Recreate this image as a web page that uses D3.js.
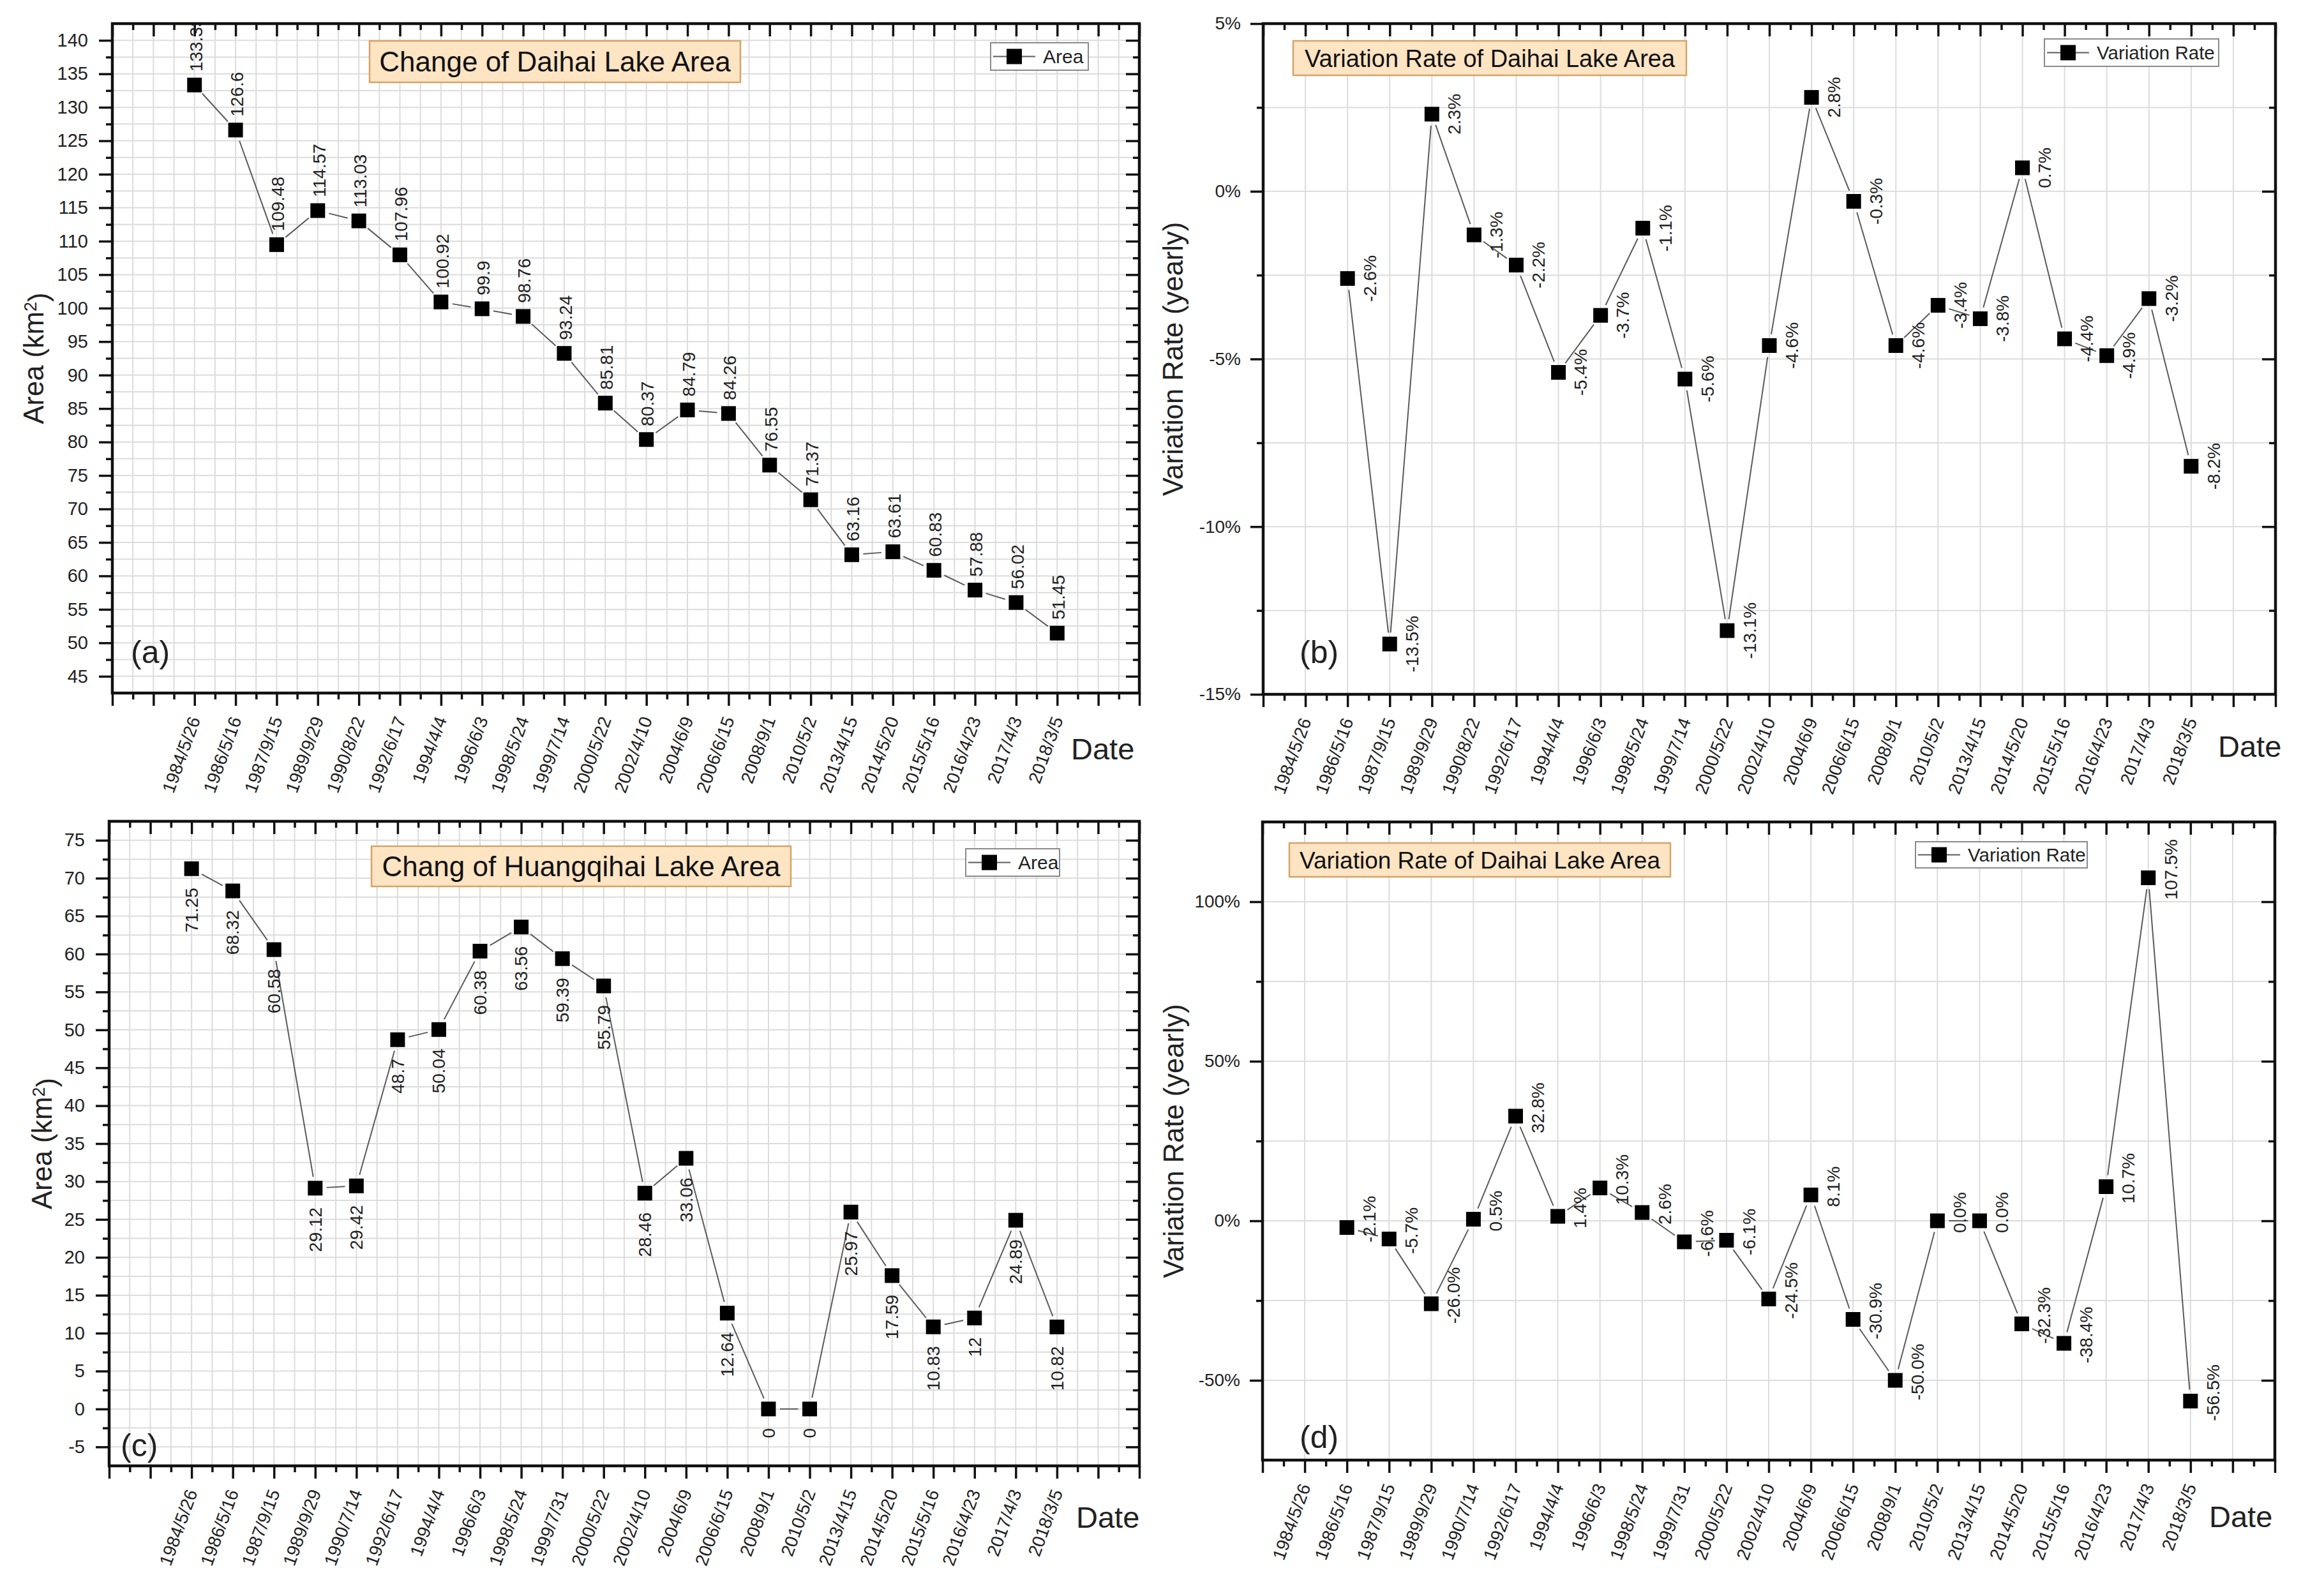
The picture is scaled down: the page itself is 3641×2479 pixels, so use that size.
<!DOCTYPE html>
<html>
<head>
<meta charset="utf-8">
<script src="https://cdn.jsdelivr.net/npm/d3@7"></script>
<style>
  body { margin: 0; background: #fff; }
  svg { display: block; }
</style>
</head>
<body>
<svg id="chart" width="3641" height="2479"></svg>
<script>
// ---- data ----
const datesDaihai = ['1984/5/26', '1986/5/16', '1987/9/15', '1989/9/29', '1990/8/22', '1992/6/17',
  '1994/4/4', '1996/6/3', '1998/5/24', '1999/7/14', '2000/5/22', '2002/4/10', '2004/6/9',
  '2006/6/15', '2008/9/1', '2010/5/2', '2013/4/15', '2014/5/20', '2015/5/16', '2016/4/23',
  '2017/4/3', '2018/3/5'];
const datesHuangqihai = ['1984/5/26', '1986/5/16', '1987/9/15', '1989/9/29', '1990/7/14', '1992/6/17',
  '1994/4/4', '1996/6/3', '1998/5/24', '1999/7/31', '2000/5/22', '2002/4/10', '2004/6/9',
  '2006/6/15', '2008/9/1', '2010/5/2', '2013/4/15', '2014/5/20', '2015/5/16', '2016/4/23',
  '2017/4/3', '2018/3/5'];

const daihaiArea = [133.33, 126.6, 109.48, 114.57, 113.03, 107.96, 100.92, 99.9, 98.76, 93.24,
  85.81, 80.37, 84.79, 84.26, 76.55, 71.37, 63.16, 63.61, 60.83, 57.88, 56.02, 51.45];
// rates start at the second date
const daihaiRate = [-2.6, -13.5, 2.3, -1.3, -2.2, -5.4, -3.7, -1.1, -5.6, -13.1, -4.6, 2.8,
  -0.3, -4.6, -3.4, -3.8, 0.7, -4.4, -4.9, -3.2, -8.2];
const huangqihaiArea = [71.25, 68.32, 60.58, 29.12, 29.42, 48.7, 50.04, 60.38, 63.56, 59.39,
  55.79, 28.46, 33.06, 12.64, 0, 0, 25.97, 17.59, 10.83, 12, 24.89, 10.82];
const huangqihaiRate = [-2.1, -5.7, -26.0, 0.5, 32.8, 1.4, 10.3, 2.6, -6.6, -6.1, -24.5, 8.1,
  -30.9, -50.0, 0.0, 0.0, -32.3, -38.4, 10.7, 107.5, -56.5];

const areaTicksDaihai = [45, 50, 55, 60, 65, 70, 75, 80, 85, 90, 95, 100, 105, 110, 115, 120, 125, 130, 135, 140];
const areaTicksHuangqihai = [-5, 0, 5, 10, 15, 20, 25, 30, 35, 40, 45, 50, 55, 60, 65, 70, 75];
const rateTicksDaihai = [-15, -10, -5, 0, 5];
const rateTicksHuangqihai = [-50, 0, 50, 100];

// ---- drawing ----
const svg = d3.select('#chart');
const font = 'Arial, "Liberation Sans", Helvetica, sans-serif';

const panels = [
  {
    key: 'a', dates: datesDaihai, values: daihaiArea, offset: 0,
    left: 176, right: 1785, top: 37, bottom: 1086,
    xDomain: [-2, 23], yDomain: [42.5, 142.5],
    yTicks: areaTicksDaihai, yMinor: d3.range(47.5, 140, 5), yFormat: d => d,
    denseGrid: true, labelMode: 'above', labelFmt: v => String(v),
    tickFont: 29, tickSize: 21, tickPad: 17,
    title: 'Change of Daihai Lake Area', titleBox: [579, 64, 581, 65], titleFont: 44,
    legend: 'Area', legendBox: [1552, 67, 153, 43], legendFont: 30,
    area: true, yTitleX: 68, dateX: 1678, dateY: 1190, tag: '(a)', tagX: 205, tagY: 1039
  },
  {
    key: 'b', dates: datesDaihai, values: daihaiRate, offset: 1,
    left: 1979, right: 3565, top: 37, bottom: 1088,
    xDomain: [-1, 23], yDomain: [-15, 5],
    yTicks: rateTicksDaihai, yMinor: [-12.5, -7.5, -2.5, 2.5], yFormat: d => d + '%',
    denseGrid: false, labelMode: 'right', labelFmt: v => v.toFixed(1) + '%', labelDy: 0,
    tickFont: 28, tickSize: 20, tickPad: 15,
    title: 'Variation Rate of Daihai Lake Area', titleBox: [2026, 64, 616, 54], titleFont: 38,
    legend: 'Variation Rate', legendBox: [3203, 61, 273, 43], legendFont: 29.5,
    area: false, yTitleX: 1853, dateX: 3475, dateY: 1186, tag: '(b)', tagX: 2036, tagY: 1039
  },
  {
    key: 'c', dates: datesHuangqihai, values: huangqihaiArea, offset: 0,
    left: 171, right: 1785, top: 1287, bottom: 2297,
    xDomain: [-2, 23], yDomain: [-7.5, 77.5],
    yTicks: areaTicksHuangqihai, yMinor: d3.range(-2.5, 75, 5), yFormat: d => d,
    denseGrid: true, labelMode: 'below', labelFmt: v => String(v),
    tickFont: 29, tickSize: 21, tickPad: 17,
    title: 'Chang of Huangqihai Lake Area', titleBox: [582, 1326, 657, 63], titleFont: 44,
    legend: 'Area', legendBox: [1513, 1330, 147, 43], legendFont: 30,
    area: true, yTitleX: 81, dateX: 1686, dateY: 2394, tag: '(c)', tagX: 189, tagY: 2282
  },
  {
    key: 'd', dates: datesHuangqihai, values: huangqihaiRate, offset: 1,
    left: 1978, right: 3564, top: 1288, bottom: 2288,
    xDomain: [-1, 23], yDomain: [-75, 125],
    yTicks: rateTicksHuangqihai, yMinor: [-25, 25, 75], yFormat: d => d + '%',
    denseGrid: false, labelMode: 'right', labelFmt: v => v.toFixed(1) + '%', labelDy: -13,
    tickFont: 28, tickSize: 20, tickPad: 15,
    title: 'Variation Rate of Daihai Lake Area', titleBox: [2020, 1321, 597, 53], titleFont: 37,
    legend: 'Variation Rate', legendBox: [3001, 1319, 269, 41], legendFont: 29.5,
    area: false, yTitleX: 1854, dateX: 3461, dateY: 2393, tag: '(d)', tagX: 2036, tagY: 2269
  }
];

function styleAxis(sel, fs) {
  sel.attr('font-family', font).attr('font-size', fs);
  sel.select('.domain').remove();
  sel.selectAll('.tick line').attr('stroke', '#111').attr('stroke-width', 3.5);
  sel.selectAll('.tick text').attr('fill', '#222');
}

function drawPanel(p) {
  const g = svg.append('g').attr('class', 'panel-' + p.key);
  const x = d3.scaleLinear().domain(p.xDomain).range([p.left, p.right]);
  const y = d3.scaleLinear().domain(p.yDomain).range([p.bottom, p.top]);
  const [x0, x1] = p.xDomain;
  const xMajor = d3.range(x0, x1 + 0.01, 1);
  const xMinor = d3.range(x0 + 0.5, x1, 1);

  // grid
  const xGrid = p.denseGrid ? d3.range(x0 + 0.5, x1 - 0.01, 0.5) : d3.range(x0 + 1, x1 - 0.01, 1);
  const yGrid = [...p.yTicks, ...p.yMinor].filter(v => v > p.yDomain[0] && v < p.yDomain[1]);
  g.append('g').selectAll('line').data(xGrid).join('line')
    .attr('x1', d => x(d)).attr('x2', d => x(d))
    .attr('y1', p.top).attr('y2', p.bottom)
    .attr('stroke', '#dcdcdc').attr('stroke-width', 2);
  g.append('g').selectAll('line').data(yGrid).join('line')
    .attr('x1', p.left).attr('x2', p.right)
    .attr('y1', d => y(d)).attr('y2', d => y(d))
    .attr('stroke', '#dcdcdc').attr('stroke-width', 2);

  // axes: major + minor on all four sides
  const dateFmt = d => (Number.isInteger(d) && p.dates[d]) ? p.dates[d] : '';
  const bottomMajor = g.append('g').attr('transform', `translate(0,${p.bottom})`)
    .call(d3.axisBottom(x).tickValues(xMajor).tickSize(20).tickFormat(dateFmt));
  styleAxis(bottomMajor, 28);
  bottomMajor.selectAll('.tick text')
    .attr('x', 0).attr('y', 0).attr('dy', '0.35em')
    .attr('text-anchor', 'end')
    .attr('transform', 'translate(0,38) rotate(-70)');
  styleAxis(g.append('g').attr('transform', `translate(0,${p.bottom})`)
    .call(d3.axisBottom(x).tickValues(xMinor).tickSize(10).tickFormat('')), 28);
  styleAxis(g.append('g').attr('transform', `translate(0,${p.top})`)
    .call(d3.axisTop(x).tickValues(xMajor).tickSize(-20).tickFormat('')), 28);
  styleAxis(g.append('g').attr('transform', `translate(0,${p.top})`)
    .call(d3.axisTop(x).tickValues(xMinor).tickSize(-10).tickFormat('')), 28);

  styleAxis(g.append('g').attr('transform', `translate(${p.left},0)`)
    .call(d3.axisLeft(y).tickValues(p.yTicks).tickSize(p.tickSize).tickPadding(p.tickPad).tickFormat(p.yFormat)), p.tickFont);
  styleAxis(g.append('g').attr('transform', `translate(${p.left},0)`)
    .call(d3.axisLeft(y).tickValues(p.yMinor).tickSize(10).tickFormat('')), p.tickFont);
  const rightTicks = p.yTicks.filter(v => v > p.yDomain[0] && v < p.yDomain[1]);
  styleAxis(g.append('g').attr('transform', `translate(${p.right},0)`)
    .call(d3.axisRight(y).tickValues(rightTicks).tickSize(-21).tickFormat('')), p.tickFont);
  styleAxis(g.append('g').attr('transform', `translate(${p.right},0)`)
    .call(d3.axisRight(y).tickValues(p.yMinor).tickSize(-10).tickFormat('')), p.tickFont);

  // frame
  g.append('rect')
    .attr('x', p.left).attr('y', p.top)
    .attr('width', p.right - p.left).attr('height', p.bottom - p.top)
    .attr('fill', 'none').attr('stroke', '#111').attr('stroke-width', 4.5);

  // title box
  const [tx, ty, tw, th] = p.titleBox;
  g.append('rect').attr('x', tx).attr('y', ty).attr('width', tw).attr('height', th)
    .attr('fill', '#fde4c3').attr('stroke', '#d4a468').attr('stroke-width', 2.5);
  g.append('text').attr('x', tx + tw / 2).attr('y', ty + th / 2).attr('dy', '0.36em')
    .attr('text-anchor', 'middle').attr('font-family', font).attr('font-size', p.titleFont)
    .attr('fill', '#111').text(p.title);

  // series
  const pts = p.values.map((v, k) => ({ i: k + p.offset, v }));
  const segs = d3.pairs(pts).map(([a, b]) => {
    const ax = x(a.i), ay = y(a.v), bx = x(b.i), by = y(b.v);
    const len = Math.hypot(bx - ax, by - ay);
    const gap = 18;
    if (len <= gap * 2) return null;
    const ux = (bx - ax) / len, uy = (by - ay) / len;
    return [ax + ux * gap, ay + uy * gap, bx - ux * gap, by - uy * gap];
  }).filter(Boolean);
  g.append('g').selectAll('line').data(segs).join('line')
    .attr('x1', d => d[0]).attr('y1', d => d[1]).attr('x2', d => d[2]).attr('y2', d => d[3])
    .attr('stroke', '#5a5a5a').attr('stroke-width', 2);
  const ms = 23;
  g.append('g').selectAll('rect').data(pts).join('rect')
    .attr('x', d => x(d.i) - ms / 2).attr('y', d => y(d.v) - ms / 2)
    .attr('width', ms).attr('height', ms).attr('fill', '#000');

  // value labels (clipped to the plot frame)
  const clipId = 'clip-' + p.key;
  g.append('clipPath').attr('id', clipId).append('rect')
    .attr('x', p.left).attr('y', p.top + 2)
    .attr('width', p.right - p.left).attr('height', p.bottom - p.top - 2);
  const lab = g.append('g').attr('clip-path', `url(#${clipId})`)
    .attr('font-family', font).attr('font-size', 28).attr('fill', '#222');
  lab.selectAll('text').data(pts).join('text')
    .attr('transform', d => {
      if (p.labelMode === 'above') return `translate(${x(d.i) + 2},${y(d.v) - 21}) rotate(-90)`;
      if (p.labelMode === 'below') return `translate(${x(d.i)},${y(d.v) + 30}) rotate(-90)`;
      return `translate(${x(d.i) + 35},${y(d.v) + p.labelDy}) rotate(-90)`;
    })
    .attr('dy', '0.35em')
    .attr('text-anchor', p.labelMode === 'above' ? 'start' : p.labelMode === 'below' ? 'end' : 'middle')
    .text(d => p.labelFmt(d.v));

  // legend
  const [lx, ly, lw, lh] = p.legendBox;
  const lcy = ly + lh / 2;
  const lg = g.append('g');
  lg.append('rect').attr('x', lx).attr('y', ly).attr('width', lw).attr('height', lh)
    .attr('fill', '#fff').attr('stroke', '#8a8a8a').attr('stroke-width', 2);
  lg.append('line').attr('x1', lx + 4).attr('x2', lx + 70).attr('y1', lcy).attr('y2', lcy)
    .attr('stroke', '#5a5a5a').attr('stroke-width', 2);
  lg.append('rect').attr('x', lx + 37 - 12).attr('y', lcy - 12).attr('width', 24).attr('height', 24)
    .attr('fill', '#000');
  lg.append('text').attr('x', lx + 82).attr('y', lcy).attr('dy', '0.36em')
    .attr('font-family', font).attr('font-size', p.legendFont).attr('fill', '#222')
    .text(p.legend);

  // axis titles
  const yt = g.append('text')
    .attr('transform', `translate(${p.yTitleX},${(p.top + p.bottom) / 2}) rotate(-90)`)
    .attr('text-anchor', 'middle').attr('font-family', font).attr('font-size', 43.5)
    .attr('fill', '#222');
  if (p.area) {
    yt.append('tspan').text('Area (km');
    yt.append('tspan').attr('dy', '-0.42em').attr('font-size', '0.62em').text('2');
    yt.append('tspan').attr('dy', '0.42em').text(')');
  } else {
    yt.text('Variation Rate (yearly)');
  }
  g.append('text').attr('x', p.dateX).attr('y', p.dateY)
    .attr('font-family', font).attr('font-size', 47).attr('fill', '#222').text('Date');

  // panel tag
  g.append('text').attr('x', p.tagX).attr('y', p.tagY)
    .attr('font-family', font).attr('font-size', 50).attr('fill', '#222').text(p.tag);
}

panels.forEach(drawPanel);
</script>
</body>
</html>
